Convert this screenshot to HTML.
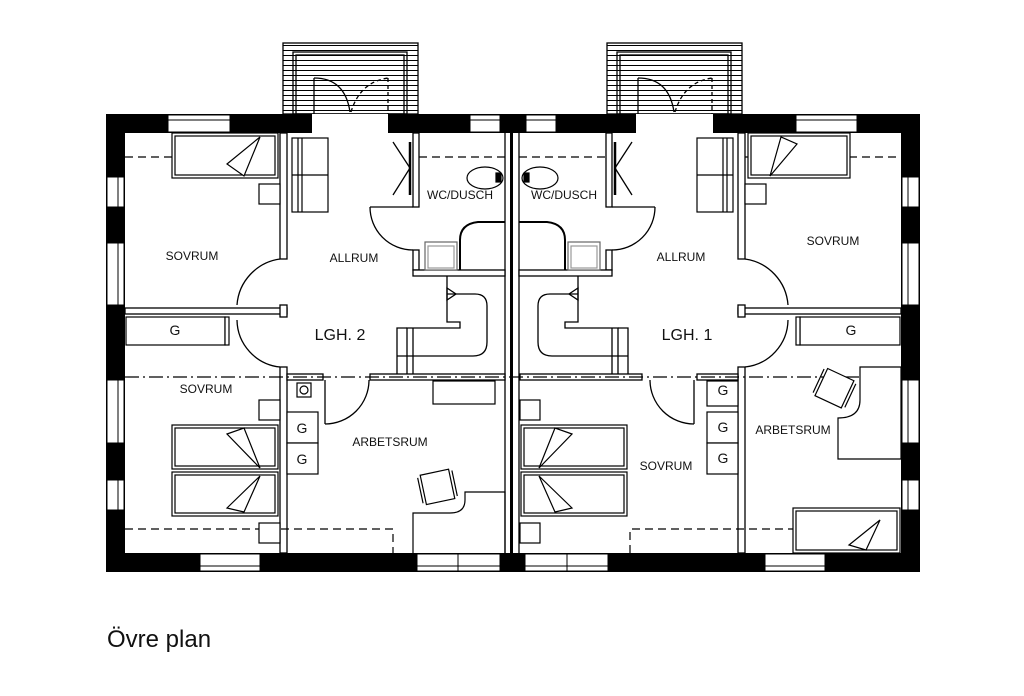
<!DOCTYPE html>
<html><head><meta charset="utf-8"><style>
html,body{margin:0;padding:0;background:#fff;width:1024px;height:696px;overflow:hidden}
svg{display:block}
text{font-family:"Liberation Sans",sans-serif;fill:#111}
</style></head><body>
<svg width="1024" height="696" viewBox="0 0 1024 696" xmlns="http://www.w3.org/2000/svg">
<defs>
<pattern id="slat" width="6" height="5" patternUnits="userSpaceOnUse"><rect width="6" height="5" fill="#fff"/><line x1="0" y1="0.5" x2="6" y2="0.5" stroke="#000" stroke-width="1"/></pattern>
</defs>
<g stroke="#000" fill="none" stroke-width="1.3">
<rect x="283" y="43" width="135" height="71" fill="url(#slat)"/>
<rect x="293" y="52" width="114" height="62"/>
<rect x="296" y="55" width="108" height="59"/>
<path d="M314 78 Q345 78 350 112" />
<path d="M351 112 Q360 82 388 78" stroke-dasharray="4 3"/>
<line x1="314" y1="78" x2="314" y2="114"/><line x1="388" y1="78" x2="388" y2="114" stroke-dasharray="4 3"/>
<rect x="607" y="43" width="135" height="71" fill="url(#slat)"/>
<rect x="617" y="52" width="114" height="62"/>
<rect x="620" y="55" width="108" height="59"/>
<path d="M638 78 Q669 78 674 112"/>
<path d="M675 112 Q684 82 712 78" stroke-dasharray="4 3"/>
<line x1="638" y1="78" x2="638" y2="114"/><line x1="712" y1="78" x2="712" y2="114" stroke-dasharray="4 3"/>
</g>
<g fill="#000">
<rect x="106" y="114" width="814" height="19"/>
<rect x="106" y="553" width="814" height="19"/>
<rect x="106" y="114" width="19" height="458"/>
<rect x="901" y="114" width="19" height="458"/>
</g>
<g fill="#fff" stroke="#000" stroke-width="1">
<rect x="168" y="115" width="62" height="17"/><rect x="470" y="115" width="30" height="17"/>
<rect x="526" y="115" width="30" height="17"/><rect x="796" y="115" width="61" height="17"/>
<rect x="312" y="114" width="76" height="19" stroke="none"/><rect x="636" y="114" width="77" height="19" stroke="none"/>
<rect x="200" y="554" width="60" height="17"/><rect x="417" y="554" width="41" height="17"/><rect x="458" y="554" width="42" height="17"/>
<rect x="525" y="554" width="42" height="17"/><rect x="567" y="554" width="41" height="17"/><rect x="765" y="554" width="60" height="17"/>
<rect x="107" y="177" width="17" height="30"/><rect x="107" y="243" width="17" height="62"/><rect x="107" y="380" width="17" height="63"/><rect x="107" y="480" width="17" height="30"/>
<rect x="902" y="177" width="17" height="30"/><rect x="902" y="243" width="17" height="62"/><rect x="902" y="380" width="17" height="63"/><rect x="902" y="480" width="17" height="30"/>
</g>
<g stroke="#000" stroke-width="1">
<line x1="168" y1="120" x2="230" y2="120"/><line x1="470" y1="120" x2="500" y2="120"/><line x1="526" y1="120" x2="556" y2="120"/><line x1="796" y1="120" x2="857" y2="120"/>
<line x1="200" y1="566" x2="260" y2="566"/><line x1="417" y1="566" x2="500" y2="566"/><line x1="525" y1="566" x2="608" y2="566"/><line x1="765" y1="566" x2="825" y2="566"/>
<line x1="118" y1="177" x2="118" y2="207"/><line x1="118" y1="243" x2="118" y2="305"/><line x1="118" y1="380" x2="118" y2="443"/><line x1="118" y1="480" x2="118" y2="510"/>
<line x1="908" y1="177" x2="908" y2="207"/><line x1="908" y1="243" x2="908" y2="305"/><line x1="908" y1="380" x2="908" y2="443"/><line x1="908" y1="480" x2="908" y2="510"/>
</g>
<g stroke="#000">
<line x1="505" y1="133" x2="505" y2="553" stroke-width="1.3"/>
<line x1="511.5" y1="114" x2="511.5" y2="572" stroke-width="3"/>
<line x1="519" y1="133" x2="519" y2="553" stroke-width="1.3"/>
</g>
<g stroke="#000" stroke-width="1.3" fill="#fff">
<rect x="280" y="133" width="7" height="126"/>
<rect x="125" y="308" width="162" height="6"/><rect x="280" y="305" width="7" height="12"/>
<rect x="280" y="367" width="7" height="186"/>
<rect x="413" y="133" width="6" height="74"/>
<rect x="413" y="250" width="6" height="20"/>
<rect x="413" y="270" width="92" height="6"/>
<rect x="738" y="133" width="7" height="126"/>
<rect x="738" y="308" width="163" height="6"/><rect x="738" y="305" width="7" height="12"/>
<rect x="738" y="367" width="7" height="186"/>
<rect x="606" y="133" width="6" height="74"/>
<rect x="606" y="250" width="6" height="20"/>
<rect x="519" y="270" width="93" height="6"/>
<rect x="370" y="374" width="135" height="6"/><rect x="520" y="374" width="122" height="6"/>
<rect x="287" y="374" width="36" height="6"/><rect x="697" y="374" width="41" height="6"/>
</g>
<g stroke="#000" stroke-width="1.3" fill="none">
<path d="M280 259 A50 50 0 0 0 237 305"/><path d="M237 320 A48 48 0 0 0 280 367"/>
<path d="M370 207 A43 43 0 0 0 413 250"/><line x1="370" y1="207" x2="413" y2="207"/>
<path d="M369 380 A44 44 0 0 1 325 424"/><line x1="325" y1="380" x2="325" y2="424"/>
<path d="M745 259 A50 50 0 0 1 788 305"/><path d="M788 320 A48 48 0 0 1 745 367"/>
<path d="M655 207 A43 43 0 0 1 612 250"/><line x1="612" y1="207" x2="655" y2="207"/>
<path d="M650 380 A44 44 0 0 0 694 424"/><line x1="694" y1="380" x2="694" y2="424"/>
<line x1="410" y1="142" x2="410" y2="195" stroke-width="2.5"/><path d="M393 142 L410 168 L393 195"/>
<line x1="615" y1="142" x2="615" y2="195" stroke-width="2.5"/><path d="M632 142 L615 168 L632 195"/>
</g>
<g stroke="#000" stroke-width="1.2" fill="none" stroke-dasharray="8 5">
<line x1="125" y1="157" x2="280" y2="157"/><line x1="419" y1="157" x2="505" y2="157"/>
<line x1="519" y1="157" x2="606" y2="157"/><line x1="745" y1="157" x2="901" y2="157"/>
<path d="M125 529 H393 V553"/><path d="M630 553 V529 H901"/>
</g>
<g stroke="#000" stroke-width="1.2" fill="none" stroke-dasharray="14 4 2 4">
<line x1="125" y1="377" x2="901" y2="377"/>
</g>
<g stroke="#000" stroke-width="1.2" fill="#fff">
<rect x="172" y="133" width="106" height="45"/><rect x="175" y="136" width="100" height="39" fill="none"/>
<path d="M227 164 L260 137 L244 176 Z"/>
<rect x="259" y="184" width="21" height="20"/>
<rect x="292" y="138" width="36" height="74"/><line x1="298" y1="138" x2="298" y2="212"/><line x1="302" y1="138" x2="302" y2="212"/><line x1="292" y1="175" x2="328" y2="175"/>
<rect x="748" y="133" width="102" height="45"/><rect x="751" y="136" width="96" height="39" fill="none"/>
<path d="M770 176 L781 137 L797 144 Z"/>
<rect x="745" y="184" width="21" height="20"/>
<rect x="697" y="138" width="36" height="74"/><line x1="723" y1="138" x2="723" y2="212"/><line x1="727" y1="138" x2="727" y2="212"/><line x1="697" y1="175" x2="733" y2="175"/>
<rect x="126" y="317" width="99" height="28"/><rect x="225" y="317" width="4" height="28"/>
<rect x="800" y="317" width="100" height="28"/><rect x="796" y="317" width="4" height="28"/>
<rect x="172" y="425" width="106" height="44"/><rect x="175" y="428" width="100" height="38" fill="none"/>
<rect x="172" y="472" width="106" height="44"/><rect x="175" y="475" width="100" height="38" fill="none"/>
<path d="M227 434 L244 428 L260 468 Z"/><path d="M227 508 L244 512 L260 476 Z"/>
<rect x="259" y="400" width="21" height="20"/><rect x="259" y="523" width="21" height="20"/>
<rect x="287" y="412" width="31" height="31"/><rect x="287" y="443" width="31" height="31"/>
<rect x="297" y="383" width="14" height="14"/><circle cx="304" cy="390" r="4"/>
<rect x="433" y="381" width="62" height="23"/>
<path d="M413 553 V513 H450 Q465 513 465 500 V492 H505 V553" fill="none"/>
<g transform="rotate(-12 437 487)"><rect x="423" y="472" width="29" height="30"/><line x1="420" y1="474" x2="420" y2="500"/><line x1="455" y1="474" x2="455" y2="500"/></g>
<rect x="521" y="425" width="106" height="44"/><rect x="524" y="428" width="100" height="38" fill="none"/>
<rect x="521" y="472" width="106" height="44"/><rect x="524" y="475" width="100" height="38" fill="none"/>
<path d="M572 434 L555 428 L539 468 Z"/><path d="M572 508 L555 512 L539 476 Z"/>
<rect x="520" y="400" width="20" height="20"/><rect x="520" y="523" width="20" height="20"/>
<rect x="707" y="381" width="31" height="25"/><rect x="707" y="412" width="31" height="31"/><rect x="707" y="443" width="31" height="31"/>
<path d="M860 367 H901 V459 H838 V418 Q860 418 860 400 Z"/>
<g transform="rotate(25 834 388)"><rect x="820" y="373" width="29" height="30"/><line x1="817" y1="375" x2="817" y2="401"/><line x1="852" y1="375" x2="852" y2="401"/></g>
<rect x="793" y="508" width="107" height="45"/><rect x="796" y="511" width="101" height="39" fill="none"/>
<path d="M849 545 L880 520 L866 550 Z"/>
<ellipse cx="485" cy="178" rx="18" ry="11"/><rect x="496" y="173" width="5" height="9" fill="#000"/>
<ellipse cx="540" cy="178" rx="18" ry="11"/><rect x="524" y="173" width="5" height="9" fill="#000"/>
<rect x="425" y="242" width="32" height="28" stroke="#666"/><rect x="428" y="246" width="26" height="22" stroke="#999" fill="none"/>
<rect x="568" y="242" width="32" height="28" stroke="#666"/><rect x="571" y="246" width="26" height="22" stroke="#999" fill="none"/>
</g>
<g stroke="#000" stroke-width="1.3" fill="none">
<path d="M460 270 V240 Q460 224 478 222 H505" stroke-width="2"/>
<path d="M565 270 V240 Q565 224 547 222 H519" stroke-width="2"/>
<path d="M447 276 V322 H460 V328 H407 V374"/><path d="M397 374 V328 H407"/><line x1="413" y1="328" x2="413" y2="374"/><line x1="397" y1="356" x2="447" y2="356"/>
<path d="M447 294 H475 Q487 294 487 306 V342 Q487 356 473 356 H447"/>
<path d="M447 288 L456 294 L447 300 Z"/>
<path d="M578 276 V322 H565 V328 H618 V374"/><path d="M628 374 V328 H618"/><line x1="612" y1="328" x2="612" y2="374"/><line x1="578" y1="356" x2="628" y2="356"/>
<path d="M578 294 H550 Q538 294 538 306 V342 Q538 356 552 356 H578"/>
<path d="M578 288 L569 294 L578 300 Z"/>
</g>
<g font-size="12" text-anchor="middle">
<text x="192" y="260">SOVRUM</text><text x="354" y="262">ALLRUM</text><text x="460" y="199">WC/DUSCH</text>
<text x="206" y="393">SOVRUM</text><text x="390" y="446">ARBETSRUM</text>
<text x="564" y="199">WC/DUSCH</text><text x="681" y="261">ALLRUM</text><text x="833" y="245">SOVRUM</text>
<text x="793" y="434">ARBETSRUM</text><text x="666" y="470">SOVRUM</text>
</g>
<g font-size="14" text-anchor="middle">
<text x="175" y="335">G</text><text x="302" y="433">G</text><text x="302" y="464">G</text>
<text x="851" y="335">G</text><text x="723" y="395">G</text><text x="723" y="432">G</text><text x="723" y="463">G</text>
</g>
<g font-size="16" text-anchor="middle">
<text x="340" y="340">LGH. 2</text><text x="687" y="340">LGH. 1</text>
</g>
<text x="107" y="647" font-size="24">Övre plan</text>
</svg>
</body></html>
